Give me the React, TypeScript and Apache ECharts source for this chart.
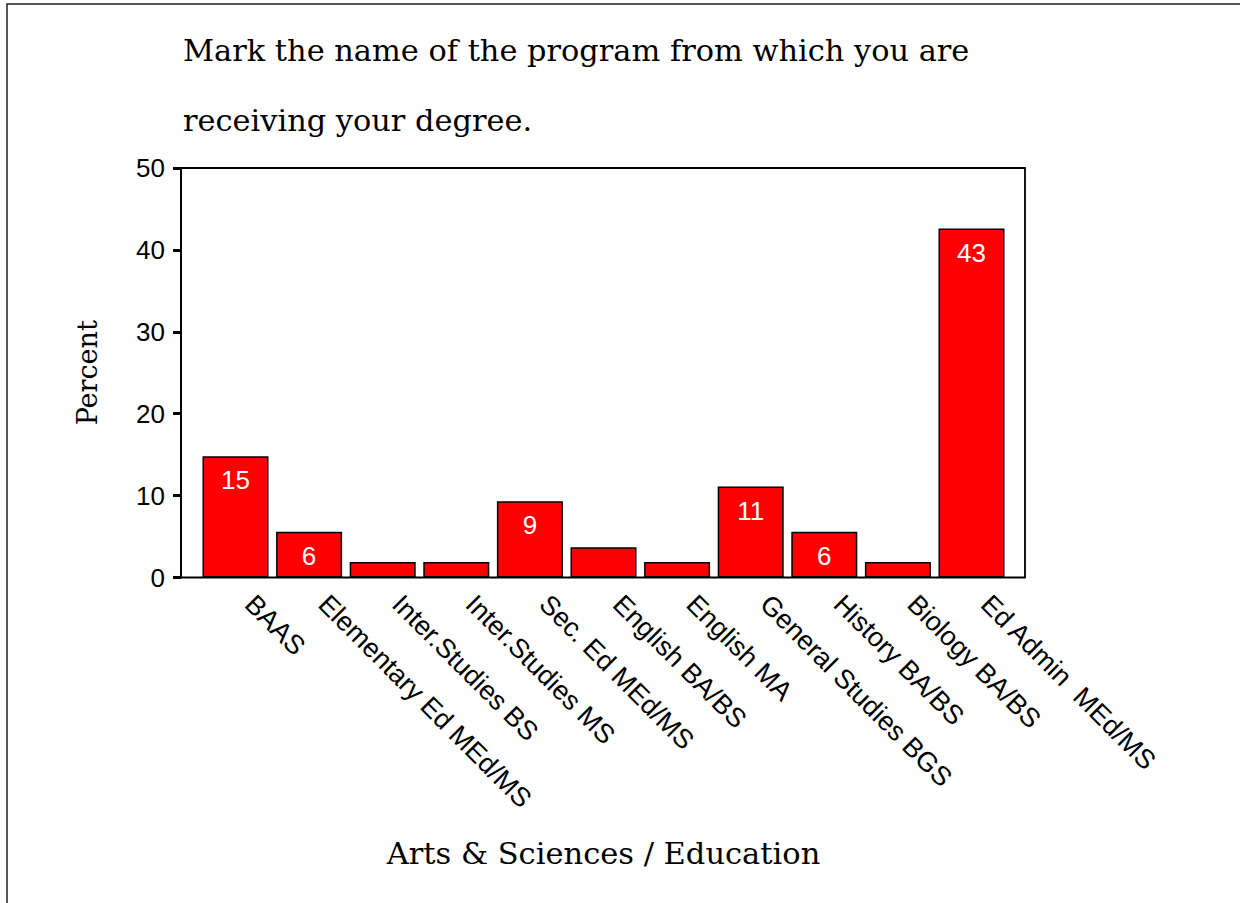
import React, { useEffect, useRef } from "react";
import * as echarts from "echarts";

const categories = [
  "BAAS",
  "Elementary Ed MEd/MS",
  "Inter.Studies BS",
  "Inter.Studies MS",
  "Sec. Ed MEd/MS",
  "English BA/BS",
  "English MA",
  "General Studies BGS",
  "History BA/BS",
  "Biology BA/BS",
  "Ed Admin  MEd/MS",
];
const percents = [14.8, 5.6, 1.9, 1.9, 9.3, 3.7, 1.9, 11.1, 5.6, 1.9, 42.6];
const yTicks = [0, 10, 20, 30, 40, 50];
const titleLines = [
  "Mark the name of the program from which you are",
  "receiving your degree.",
];
const xName = "Arts & Sciences / Education";
const yName = "Percent";

const SERIF = "'DejaVu Serif', 'Liberation Serif', serif";
const SANS = "'Liberation Sans', Arial, sans-serif";

export default function App() {
  const ref = useRef<HTMLDivElement>(null);
  useEffect(() => {
    document.body.style.margin = "0";
    const chart = echarts.init(ref.current!, null, { renderer: "svg" });
    const top = 168;
    const bottom = 903 - 577.5;
    chart.setOption({
      animation: false,
      backgroundColor: "#fff",
      title: {
        text: titleLines.join("\n"),
        left: 178,
        top: 10,
        textStyle: {
          fontFamily: SERIF,
          fontWeight: "normal",
          fontSize: 30.4,
          lineHeight: 70,
          color: "#000",
        },
      },
      graphic: [
        {
          type: "rect",
          shape: { x: 7, y: 4, width: 1400, height: 1000 },
          style: { fill: "none", stroke: "#222", lineWidth: 1.5 },
          silent: true,
        },
      ],
      grid: [
        { left: 181, right: 215, top, bottom, show: true, borderColor: "#000", borderWidth: 1.8, backgroundColor: "transparent" },
        { left: 198.7, right: 231.7, top, bottom },
      ],
      xAxis: [
        { gridIndex: 0, type: "value", min: 0, max: 1, show: false },
        {
          gridIndex: 1,
          type: "category",
          data: categories,
          axisLine: { show: false },
          axisTick: { alignWithLabel: true, length: 6, lineStyle: { color: "#000", width: 3 } },
          axisLabel: {
            rotate: -45,
            interval: 0,
            margin: 8,
            padding: [0, 0, 0, 20],
            color: "#000",
            fontFamily: SANS,
            fontSize: 27,
          },
          name: xName,
          nameLocation: "middle",
          nameGap: 276,
          nameTextStyle: { fontFamily: SERIF, fontSize: 30.5, color: "#000", verticalAlign: "middle" },
        },
      ],
      yAxis: [
        {
          gridIndex: 0,
          type: "value",
          min: 0,
          max: 50,
          interval: 10,
          splitLine: { show: false },
          axisLine: { show: true, lineStyle: { color: "#000", width: 1.8 } },
          axisTick: { show: true, length: 8, lineStyle: { color: "#000", width: 3 } },
          axisLabel: {
            color: "#000",
            fontFamily: SANS,
            fontSize: 26,
            margin: 16,
            formatter: (v: number) => (yTicks.includes(v) ? String(v) : ""),
          },
          name: yName,
          nameLocation: "middle",
          nameGap: 94,
          nameRotate: 90,
          nameTextStyle: { fontFamily: SERIF, fontSize: 27, color: "#000", verticalAlign: "middle" },
        },
        { gridIndex: 1, type: "value", min: 0, max: 50, show: false },
      ],
      series: [
        {
          type: "bar",
          xAxisIndex: 1,
          yAxisIndex: 1,
          data: percents,
          barCategoryGap: "10.3%",
          itemStyle: { color: "#ff0000", borderColor: "#000", borderWidth: 1.5 },
          label: {
            show: true,
            position: "insideTop",
            distance: 11,
            color: "#fff",
            fontFamily: SANS,
            fontSize: 26,
            formatter: (p: any) => (p.value >= 5 ? String(Math.round(p.value)) : ""),
          },
        },
      ],
    });
    return () => chart.dispose();
  }, []);
  return <div ref={ref} style={{ width: 1240, height: 903 }} />;
}
